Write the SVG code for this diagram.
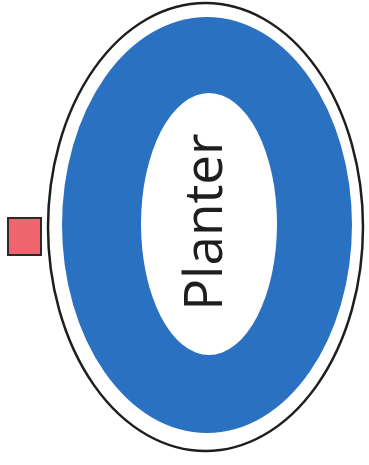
<svg xmlns="http://www.w3.org/2000/svg" width="369" height="465" viewBox="0 0 369 465">
<style>
.outer{fill:#ffffff;stroke:#1e1e1e;stroke-width:2.5}
.ring{fill:#2a72c1}
.hole{fill:#ffffff}
.marker{fill:#f0646e;stroke:#2a2a2a;stroke-width:2}
.label{font-family:"Open Sans","Liberation Sans",sans-serif;font-size:53px;fill:#1e1e1e;text-anchor:middle}
</style>
<g id="planter">
<ellipse class="outer" cx="205.5" cy="227" rx="157.5" ry="224"/>
<ellipse class="ring" cx="207" cy="225" rx="145" ry="208"/>
<ellipse class="hole" cx="209" cy="224" rx="68" ry="131"/>
<text class="label" transform="translate(222,222) rotate(-90)">Planter</text>
</g>
<g id="marker">
<rect class="marker" x="8" y="218" width="33" height="37"/>
</g>
</svg>
